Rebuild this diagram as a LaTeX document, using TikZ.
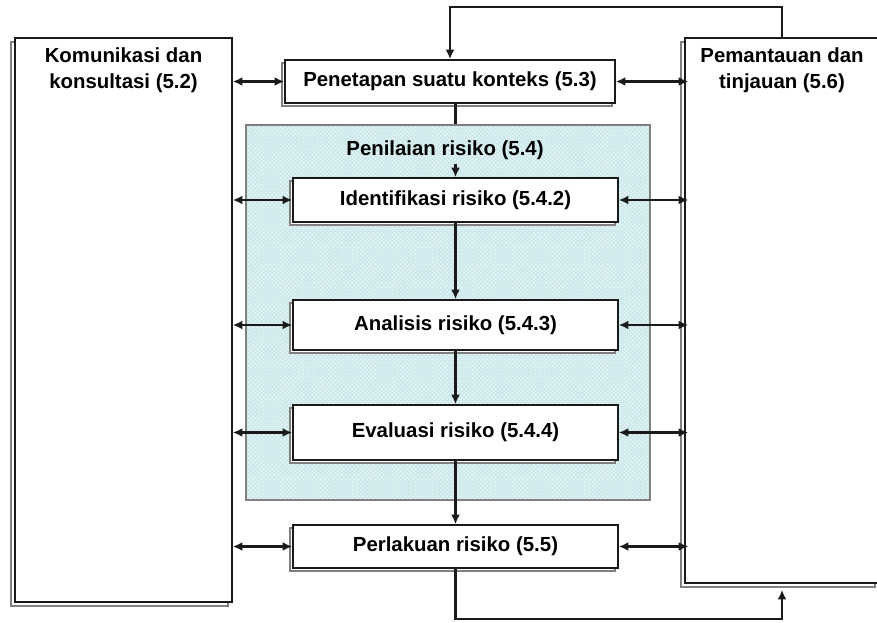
\documentclass[tikz,border=0pt]{standalone}
\usepackage{fontspec}
\setmainfont{Liberation Sans}
\usetikzlibrary{arrows.meta,calc,positioning,fit,shadows,patterns}
\definecolor{ink}{HTML}{1A1A1A}
\definecolor{edge}{HTML}{808080}
\definecolor{zonefill}{HTML}{CDE9EC}

\begin{document}
\begin{tikzpicture}[x=0.025cm, y=-0.025cm, >={Latex[length=2.4mm,width=2.2mm]},
  font=\fontsize{14.5}{18}\selectfont\bfseries,
  stepbox/.style={draw=ink, line width=1pt, fill=white, minimum width=8.125cm,
    copy shadow={shadow xshift=-0.75mm, shadow yshift=-0.75mm, draw=edge, fill=white}},
  sidebox/.style={draw=ink, line width=1pt, fill=white,
    copy shadow={shadow xshift=-1mm, shadow yshift=-1mm, draw=edge, fill=white, line width=1.2pt}},
  link/.style={draw=ink, line width=1.5pt}]
  \useasboundingbox (0,0) rectangle (877,623);
  % zone of the assessment
  \node[draw=edge, line width=1pt, preaction={fill=zonefill}, inner sep=0,
    pattern=crosshatch dots, pattern color=white,
    fit={(246,125) (650,500)}] (zone) {};
  \node (zlbl) at (445,150) {Penilaian risiko (5.4)};
  % boxes
  \node[sidebox, minimum width=5.425cm, minimum height=14.1cm,
    label={[anchor=north, yshift=-0.15cm, align=center]north:{Komunikasi dan\\konsultasi (5.2)}}] (komu) at (123.5,320) {};
  \node[sidebox, minimum width=4.85cm, minimum height=13.625cm,
    label={[anchor=north, yshift=-0.15cm, align=center]north:{Pemantauan dan\\tinjauan (5.6)}}] (pant) at (782,310.5) {};
  \node[stepbox, minimum width=8.25cm, minimum height=1.075cm] (pen) at (450,81.5) {Penetapan suatu konteks (5.3)};
  \node[stepbox, minimum height=1.1cm] (ident) at (455.5,200) {Identifikasi risiko (5.4.2)};
  \node[stepbox, minimum height=1.25cm] (anal) at (455.5,325) {Analisis risiko (5.4.3)};
  \node[stepbox, minimum height=1.375cm] (eval) at (455.5,432.5) {Evaluasi risiko (5.4.4)};
  \node[stepbox, minimum height=1.075cm] (perl) at (455.5,546.5) {Perlakuan risiko (5.5)};
  % flow down the middle
  \draw[link] (pen.south -| ident.north) -- (zone.north -| ident.north);
  \draw[->, link] (zlbl.south -| ident.north) -- (ident.north);
  \draw[->, link] (ident) -- (anal);
  \draw[->, link] (anal) -- (eval);
  \draw[->, link] (eval) -- (perl);
  % links to the side boxes
  \foreach \b in {pen,ident,anal,eval,perl} {
    \draw[<->, link] (komu.east |- \b.west) -- (\b.west);
    \draw[<->, link, shorten >=-1mm] (\b.east) -- (\b.east -| pant.west);
  }
  % loops
  \draw[->, link] (pant.north) -- ++(0,-30) -| (pen.north);
  \draw[->, link] (perl.south) -- ++(0,50) -| ($(pant.south)+(0,6)$);
\end{tikzpicture}
\end{document}
